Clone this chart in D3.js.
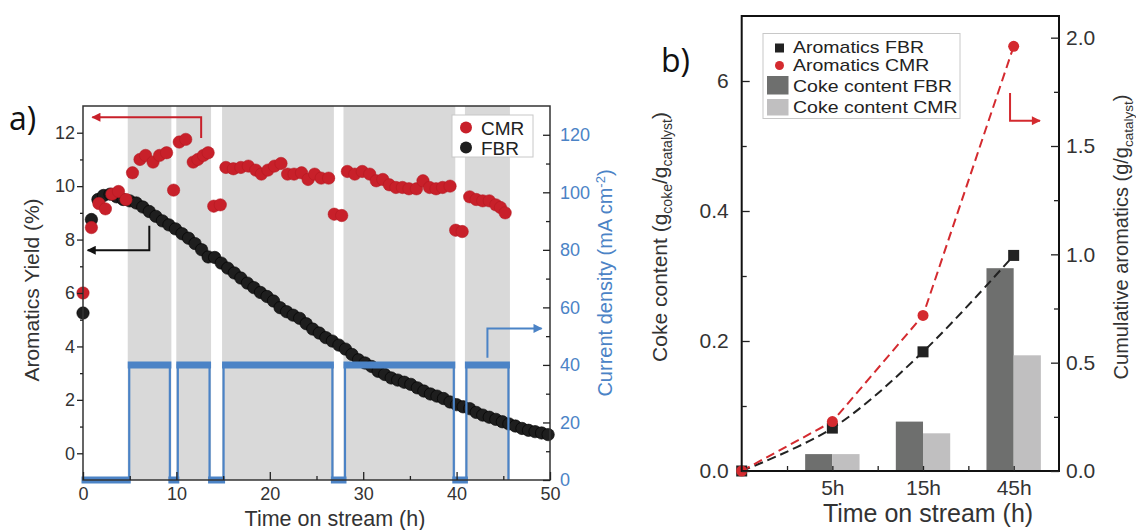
<!DOCTYPE html>
<html><head><meta charset="utf-8">
<script src="https://cdn.jsdelivr.net/npm/d3@7"></script>
<style>
body{margin:0;background:#fff;}
svg{display:block;font-family:"Liberation Sans",Arial,sans-serif;}
</style></head><body>
<svg id="c" width="1136" height="530"></svg>
<script>
// ---------- Panel a data ----------
const fbrTime = [0,0.9,1.6,2.2,2.9,3.6,4.3,5.0,5.7,6.4,7.1,7.8,8.5,9.2,9.9,10.6,11.3,12.0,12.7,13.4,14.1,14.8,15.5,16.2,16.9,17.6,18.3,19.0,19.7,20.4,21.1,21.8,22.5,23.2,23.9,24.6,25.3,26.0,26.7,27.4,28.1,28.8,29.5,30.2,30.9,31.6,32.3,33.0,33.7,34.4,35.1,35.8,36.5,37.2,37.9,38.6,39.3,40.0,40.7,41.4,42.1,42.8,43.5,44.2,44.9,45.6,46.3,47.0,47.7,48.4,49.1,49.8];
const fbrYield = [5.25,8.75,9.5,9.65,9.7,9.6,9.5,9.45,9.37,9.22,9.05,8.87,8.7,8.55,8.4,8.22,8.05,7.85,7.62,7.35,7.33,7.12,6.93,6.75,6.56,6.37,6.2,6.02,5.87,5.7,5.45,5.3,5.17,5.05,4.85,4.65,4.5,4.33,4.2,4.05,3.9,3.7,3.5,3.38,3.25,3.07,2.95,2.82,2.74,2.66,2.58,2.45,2.33,2.22,2.14,2.05,1.92,1.82,1.74,1.67,1.53,1.43,1.35,1.27,1.18,1.10,1.02,0.93,0.86,0.81,0.76,0.70];
const cmrTime = [0,0.9,1.7,2.4,3.1,3.8,4.6,5.3,6.1,6.7,7.5,8.2,8.95,9.7,10.3,11.0,11.8,12.3,12.9,13.4,14.0,14.7,15.3,16.1,16.9,17.7,18.5,19.1,19.8,20.5,21.2,21.9,22.6,23.4,24.1,24.8,25.5,26.3,26.9,27.7,28.3,29.1,29.9,30.7,31.4,32.1,32.8,33.5,34.2,34.9,35.7,36.4,37.1,37.8,38.5,39.3,39.9,40.6,41.4,42.1,42.8,43.5,44.2,44.7,45.2];
const cmrYield = [6.0,8.45,9.35,9.15,9.7,9.8,9.5,10.5,11.0,11.15,10.9,11.15,11.25,9.85,11.65,11.75,10.9,11.0,11.15,11.25,9.25,9.3,10.7,10.65,10.7,10.75,10.6,10.45,10.6,10.75,10.85,10.45,10.45,10.5,10.25,10.45,10.3,10.3,8.95,8.9,10.55,10.45,10.55,10.45,10.2,10.25,10.05,9.95,9.95,9.9,9.9,10.2,9.95,9.9,9.95,10.0,8.35,8.3,9.6,9.5,9.45,9.45,9.3,9.2,9.0];
// current density steps (value holds from that time until the next)
const currentTimes = [0,4.95,9.3,10.15,13.55,15.05,26.7,28.05,39.7,41.05,45.55];
const currentValues = [0,40,0,40,0,40,0,40,0,40,0];
const aTicksX = [0,10,20,30,40,50];
const aMinorX = [5,15,25,35,45];
const aTicksY = [0,2,4,6,8,10,12];
const aMinorY = [1,3,5,7,9,11];
const aTicksY2 = [0,20,40,60,80,100,120];
const aMinorY2 = [10,30,50,70,90,110];
const aLegend = ["CMR","FBR"];

// ---------- Panel b data ----------
const bCategories = ["5h","15h","45h"];
const cokeFBR = [0.026,0.076,0.312];
const cokeCMR = [0.026,0.058,0.178];
const aromLabels = ["0","5h","15h","45h"];
const aromFBR = [0,0.198,0.55,0.995];
const aromCMR = [0,0.228,0.718,1.96];
const bTicksY = [0,0.2,0.4,0.6];
const bTickLabelsY = ["0.0","0.2","0.4","6"];
const bMinorY = [0.1,0.3,0.5];
const bTicksY2 = [0,0.5,1.0,1.5,2.0];
const bMinorY2 = [0.25,0.75,1.25,1.75];
const bLegend = ["Aromatics FBR","Aromatics CMR","Coke content FBR","Coke content CMR"];

const RED = "#c8202a", BLACK = "#1e1e1e", BLUE = "#4b83c6";
const svg = d3.select("#c");
const defs = svg.append("defs");
function marker(id,color){
  defs.append("marker").attr("id",id).attr("viewBox","0 0 10 10").attr("refX",9).attr("refY",5)
    .attr("markerWidth",5).attr("markerHeight",4.5).attr("orient","auto")
    .append("path").attr("d","M0,0L10,5L0,10z").attr("fill",color);
}
marker("mRed",RED); marker("mBlack","#111"); marker("mBlue",BLUE); marker("mRedB","#d42a2f");

function styleAxis(g, size, color){
  g.select(".domain").remove();
  g.selectAll(".tick line").attr("stroke","#222").attr("stroke-width",1.3);
  g.selectAll(".tick text").attr("font-size",size).attr("fill",color||"#333");
}

// ================= Panel a =================
const xA = d3.scaleLinear([0,50],[83,550]);
const yA = d3.scaleLinear([-1,13],[480,106]);
const yA2 = d3.scaleLinear([0,130],[480,106]);
const pa = svg.append("g");

// shaded periods
const periods = d3.range(1,currentTimes.length-1,2).map(i=>[currentTimes[i],currentTimes[i+1]]);
pa.selectAll("rect.band").data(periods).join("rect").attr("class","band")
  .attr("x",d=>xA(d[0])-1.5).attr("width",d=>xA(d[1])-xA(d[0])+3)
  .attr("y",yA(13)).attr("height",yA(-1)-yA(13)).attr("fill","#d9d9d9");

// FBR dots
pa.selectAll("circle.fbr").data(fbrTime).join("circle").attr("class","fbr")
  .attr("cx",d=>xA(d)).attr("cy",(d,i)=>yA(fbrYield[i])).attr("r",6.2)
  .attr("fill",BLACK).attr("stroke","#000").attr("stroke-width",0.6);

// current density
const curPts = currentTimes.map((t,i)=>[t,currentValues[i]]);
pa.append("path").datum(curPts).attr("fill","none").attr("stroke",BLUE).attr("stroke-width",2.2)
  .attr("d",d3.line().x(d=>xA(d[0])).y(d=>yA2(d[1])).curve(d3.curveStepAfter));
pa.selectAll("line.thick").data(d3.range(currentTimes.length-1)).join("line").attr("class","thick")
  .attr("x1",i=>xA(currentTimes[i])-1.5).attr("x2",i=>xA(currentTimes[i+1])+1.5)
  .attr("y1",i=>yA2(currentValues[i])).attr("y2",i=>yA2(currentValues[i]))
  .attr("stroke",BLUE).attr("stroke-width",7);

// CMR dots
pa.selectAll("circle.cmr").data(cmrTime).join("circle").attr("class","cmr")
  .attr("cx",d=>xA(d)).attr("cy",(d,i)=>yA(cmrYield[i])).attr("r",6.2)
  .attr("fill",RED).attr("stroke","#b01820").attr("stroke-width",0.5);

// arrows
const arrowA = [
  {pts:[[12.65,11.8],[12.65,12.58],[1.0,12.58]], color:RED, m:"mRed", scale:"l"},
  {pts:[[7.1,8.52],[7.1,7.6],[0.5,7.6]], color:"#111", m:"mBlack", scale:"l"},
  {pts:[[43.3,42.5],[43.3,52.7],[49.1,52.7]], color:BLUE, m:"mBlue", scale:"r"}
];
arrowA.forEach(a=>{
  const ys = a.scale==="l"?yA:yA2;
  pa.append("path").attr("d",d3.line().x(d=>xA(d[0])).y(d=>ys(d[1]))(a.pts))
    .attr("fill","none").attr("stroke",a.color).attr("stroke-width",2).attr("marker-end",`url(#${a.m})`);
});

// frame
pa.append("rect").attr("x",xA(0)).attr("y",yA(13)).attr("width",xA(50)-xA(0)).attr("height",yA(-1)-yA(13))
  .attr("fill","none").attr("stroke","#333").attr("stroke-width",1.5);

// axes
let g;
g = pa.append("g").attr("transform",`translate(0,${yA(-1)})`)
  .call(d3.axisBottom(xA).tickValues(aTicksX).tickSize(-8).tickPadding(7).tickFormat(d3.format("d")));
styleAxis(g,18);
g = pa.append("g").attr("transform",`translate(0,${yA(-1)})`)
  .call(d3.axisBottom(xA).tickValues(aMinorX).tickSize(-4).tickFormat(""));
styleAxis(g,18);
g = pa.append("g").attr("transform",`translate(${xA(0)},0)`)
  .call(d3.axisLeft(yA).tickValues(aTicksY).tickSize(6).tickPadding(2).tickFormat(d3.format("d")));
styleAxis(g,18);
g = pa.append("g").attr("transform",`translate(${xA(0)},0)`)
  .call(d3.axisLeft(yA).tickValues(aMinorY).tickSize(3).tickFormat(""));
styleAxis(g,18);
g = pa.append("g").attr("transform",`translate(${xA(50)},0)`)
  .call(d3.axisRight(yA2).tickValues(aTicksY2).tickSize(-7).tickPadding(10).tickFormat(d3.format("d")));
styleAxis(g,18,BLUE);
g = pa.append("g").attr("transform",`translate(${xA(50)},0)`)
  .call(d3.axisRight(yA2).tickValues(aMinorY2).tickSize(-4).tickFormat(""));
styleAxis(g,18);

// titles
pa.append("text").attr("transform","translate(39,290) rotate(-90)").attr("text-anchor","middle")
  .attr("font-size",21).attr("fill","#333").text("Aromatics Yield (%)");
pa.append("text").attr("x",335).attr("y",526).attr("text-anchor","middle")
  .attr("font-size",21.5).attr("fill","#333").text("Time on stream (h)");
const ct = pa.append("text").attr("transform","translate(612,283) rotate(-90)").attr("text-anchor","middle")
  .attr("font-size",20).attr("fill",BLUE);
ct.append("tspan").text("Current density (mA cm");
ct.append("tspan").attr("dy",-7).attr("font-size",13).text("-2");
ct.append("tspan").attr("dy",7).text(")");

// legend a
pa.append("rect").attr("x",452).attr("y",115).attr("width",81).attr("height",42)
  .attr("fill","#fff").attr("stroke","#c8c8c8").attr("stroke-width",1);
[RED,BLACK].forEach((c,i)=>{
  pa.append("circle").attr("cx",466).attr("cy",127.5+i*20).attr("r",6).attr("fill",c);
  pa.append("text").attr("x",481).attr("y",134.5+i*20).attr("font-size",19).attr("fill","#222").text(aLegend[i]);
});

svg.append("text").attr("x",9).attr("y",130).attr("font-family","'Open Sans',sans-serif")
  .attr("font-size",32).attr("fill","#111").text("a)");

// ================= Panel b =================
const xB = d3.scaleLinear([0,3.5],[741.7,1059]);
const yB = d3.scaleLinear([0,0.7],[471,16]);
const yB2 = d3.scaleLinear([0,2.1],[471,16]);
const pb = svg.append("g");
const bw = 0.3;

pb.selectAll("rect.cf").data(bCategories).join("rect").attr("class","cf")
  .attr("x",(d,i)=>xB(i+1-bw)).attr("width",xB(bw)-xB(0))
  .attr("y",(d,i)=>yB(cokeFBR[i])).attr("height",(d,i)=>yB(0)-yB(cokeFBR[i])).attr("fill","#6e6f6e");
pb.selectAll("rect.cc").data(bCategories).join("rect").attr("class","cc")
  .attr("x",(d,i)=>xB(i+1)).attr("width",xB(bw)-xB(0))
  .attr("y",(d,i)=>yB(cokeCMR[i])).attr("height",(d,i)=>yB(0)-yB(cokeCMR[i])).attr("fill","#c0bfc0");

const lineB = d3.line().x((d,i)=>xB(i)).y(d=>yB2(d)).curve(d3.curveCatmullRom.alpha(0.5));
pb.append("path").datum(aromFBR).attr("d",lineB).attr("fill","none").attr("stroke","#222")
  .attr("stroke-width",2).attr("stroke-dasharray","9,5");
pb.append("path").datum(aromCMR).attr("d",d3.line().x((d,i)=>xB(i)).y(d=>yB2(d))).attr("fill","none").attr("stroke","#d42a2f")
  .attr("stroke-width",2).attr("stroke-dasharray","9,5");
pb.selectAll("rect.mf").data(aromFBR).join("rect").attr("class","mf")
  .attr("x",(d,i)=>xB(i)-5.5).attr("y",d=>yB2(d)-5.5).attr("width",11).attr("height",11).attr("fill","#222");
pb.selectAll("circle.mc").data(aromCMR).join("circle").attr("class","mc")
  .attr("cx",(d,i)=>xB(i)).attr("cy",d=>yB2(d)).attr("r",5.5).attr("fill","#d42a2f");

// arrow b
pb.append("path").attr("d",d3.line().x(d=>xB(d[0])).y(d=>yB2(d[1]))([[2.96,1.745],[2.96,1.617],[3.29,1.617]]))
  .attr("fill","none").attr("stroke","#d42a2f").attr("stroke-width",2).attr("marker-end","url(#mRedB)");

pb.append("rect").attr("x",xB(0)).attr("y",yB(0.7)).attr("width",xB(3.5)-xB(0)).attr("height",yB(0)-yB(0.7))
  .attr("fill","none").attr("stroke","#111").attr("stroke-width",2);

g = pb.append("g").attr("transform",`translate(0,${yB(0)})`)
  .call(d3.axisBottom(xB).tickValues([1,2,3]).tickSize(-5).tickPadding(9).tickFormat((d,i)=>bCategories[i]));
styleAxis(g,21);
g = pb.append("g").attr("transform",`translate(0,${yB(0)})`)
  .call(d3.axisBottom(xB).tickValues([0.5,1.5,2.5]).tickSize(-5).tickFormat(""));
styleAxis(g,21);
g = pb.append("g").attr("transform",`translate(${xB(0)},0)`)
  .call(d3.axisLeft(yB).tickValues(bTicksY).tickSize(-8).tickPadding(13).tickFormat((d,i)=>bTickLabelsY[i]));
styleAxis(g,21);
g = pb.append("g").attr("transform",`translate(${xB(0)},0)`)
  .call(d3.axisLeft(yB).tickValues(bMinorY).tickSize(-5).tickFormat(""));
styleAxis(g,21);
g = pb.append("g").attr("transform",`translate(${xB(3.5)},0)`)
  .call(d3.axisRight(yB2).tickValues(bTicksY2).tickSize(-8).tickPadding(7).tickFormat(d3.format(".1f")));
styleAxis(g,21);
g = pb.append("g").attr("transform",`translate(${xB(3.5)},0)`)
  .call(d3.axisRight(yB2).tickValues(bMinorY2).tickSize(-5).tickFormat(""));
styleAxis(g,21);

// titles b
pb.append("text").attr("x",928).attr("y",522).attr("text-anchor","middle")
  .attr("font-size",25).attr("fill","#333").text("Time on stream (h)");
const lt = pb.append("text").attr("transform","translate(667,237) rotate(-90)").attr("text-anchor","middle")
  .attr("font-size",21).attr("fill","#333");
lt.append("tspan").text("Coke content (g");
lt.append("tspan").attr("dy",5).attr("font-size",14).text("coke");
lt.append("tspan").attr("dy",-5).text("/g");
lt.append("tspan").attr("dy",5).attr("font-size",14).text("catalyst");
lt.append("tspan").attr("dy",-5).text(")");
const rt = pb.append("text").attr("transform","translate(1128,237) rotate(-90)").attr("text-anchor","middle")
  .attr("font-size",20).attr("fill","#333");
rt.append("tspan").text("Cumulative aromatics (g/g");
rt.append("tspan").attr("dy",5).attr("font-size",13.5).text("catalyst");
rt.append("tspan").attr("dy",-5).text(")");

// legend b
pb.append("rect").attr("x",763).attr("y",33.5).attr("width",197).attr("height",85)
  .attr("fill","#fff").attr("stroke","#c8c8c8").attr("stroke-width",1);
pb.append("rect").attr("x",775).attr("y",43.5).attr("width",9).attr("height",9).attr("fill","#222");
pb.append("circle").attr("cx",779.5).attr("cy",65.5).attr("r",4.5).attr("fill","#d42a2f");
pb.append("rect").attr("x",767).attr("y",76).attr("width",21.5).attr("height",18.5).attr("fill","#6e6f6e");
pb.append("rect").attr("x",767).attr("y",99).attr("width",21.5).attr("height",16.5).attr("fill","#c0bfc0");
const lgB = pb.append("g").attr("transform","translate(793,0) scale(1.16,1)");
[53.5,71.5,92,113.5].forEach((y,i)=>{
  lgB.append("text").attr("x",0).attr("y",y).attr("font-size",16.8).attr("fill","#222").text(bLegend[i]);
});

svg.append("text").attr("x",661).attr("y",72).attr("font-family","'Open Sans',sans-serif")
  .attr("font-size",32).attr("fill","#111").text("b)");
</script>
</body></html>
